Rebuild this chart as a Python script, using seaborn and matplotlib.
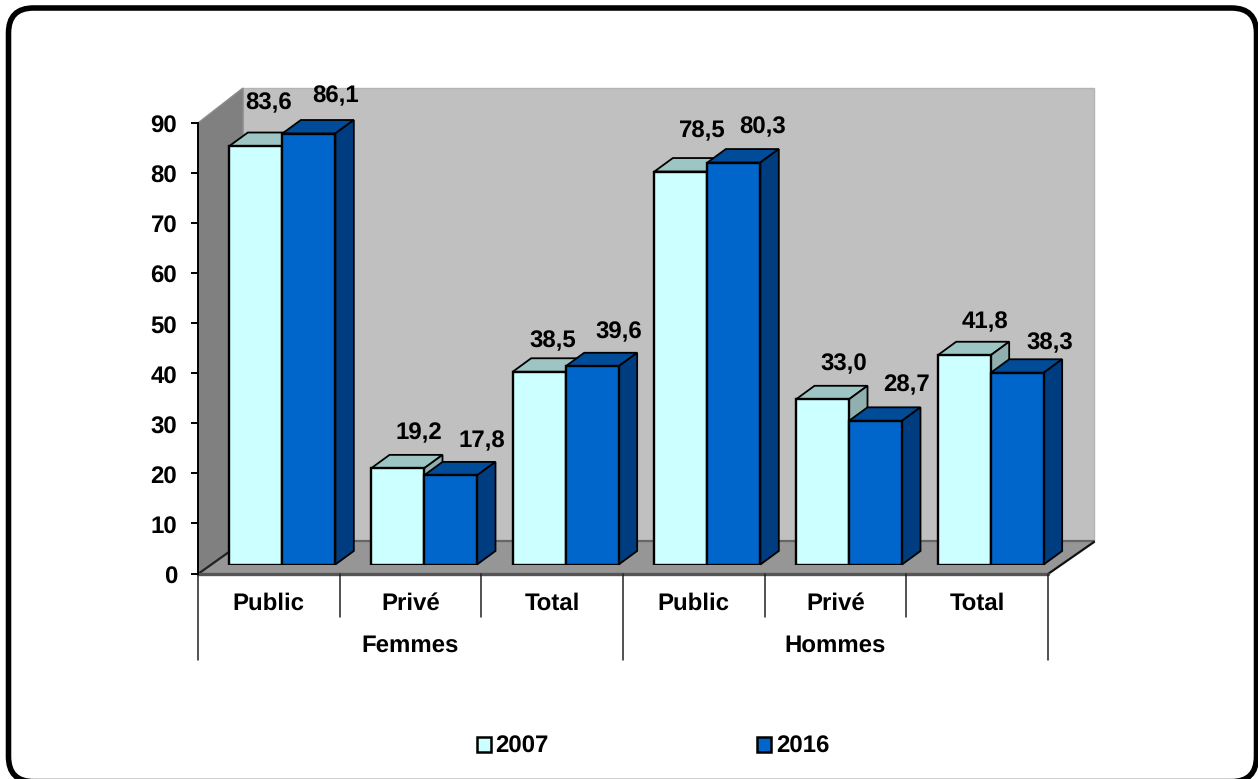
import matplotlib
matplotlib.use("Agg")
import matplotlib.pyplot as plt
from matplotlib.patches import Polygon, FancyBboxPatch, Patch
from matplotlib.transforms import ScaledTranslation
import pandas as pd
import seaborn as sns

groups = ["Femmes", "Hommes"]
sectors = ["Public", "Privé", "Total"]
years = ["2007", "2016"]
values_2007 = [83.6, 19.2, 38.5, 78.5, 33.0, 41.8]
values_2016 = [86.1, 17.8, 39.6, 80.3, 28.7, 38.3]
# Pixel nudges of the value labels from the top-centre of each front face
nudge_2007 = [(13, -43), (21, -35), (14, -31), (21, -40), (21, -35), (21, -33)]
nudge_2016 = [(27, -37), (31, -34), (27, -34), (29, -35), (31, -36), (33, -30)]

W, H = 1258, 779
FRONT = {"2007": "#CCFFFF", "2016": "#0066CC"}
TOP = {"2007": "#9CC5C3", "2016": "#004C99"}
SIDE = {"2007": "#8FB0AE", "2016": "#003D80"}
FS = 17

sns.set_theme(style="white")
plt.rcParams["font.family"] = ["Liberation Sans", "DejaVu Sans"]
plt.rcParams["font.weight"] = "bold"
plt.rcParams["text.hinting"] = "no_hinting"
plt.rcParams["text.hinting_factor"] = 1

fig = plt.figure(figsize=(W / 100, H / 100), dpi=100, facecolor="white")


def rect(left, top, right, bottom):
    return [left / W, 1 - bottom / H, (right - left) / W, (bottom - top) / H]


# Pixel-space layer: frame, walls and floor of the 3-D box
bg = fig.add_axes([0, 0, 1, 1], zorder=0)
bg.set_xlim(0, W)
bg.set_ylim(H, 0)
bg.axis("off")
bg.add_patch(FancyBboxPatch((8.5, 8), 1256.5 - 8.5, 781.6 - 8, boxstyle="round,pad=0,rounding_size=25",
                            fc="white", ec="black", lw=4, clip_on=True))
bg.add_patch(Polygon([(243, 88), (1094, 88), (1094, 542), (243, 542)], fc="#C0C0C0", ec="#B4B4B4", lw=1))
bg.add_patch(Polygon([(198, 123), (243, 88), (243, 542), (198, 574)], fc="#808080", ec="#8C8C8C", lw=1))
bg.add_patch(Polygon([(198, 574), (243, 542), (1094, 542), (1048, 574)], fc="#969696", ec="none"))
bg.plot([243, 1094], [541, 541], color="#666666", lw=1.6)
bg.plot([198, 243], [574, 542], color="#222222", lw=1.6)
bg.plot([1048, 1094], [574, 542], color="#111111", lw=1.6)
bg.plot([198, 1048], [574, 574], color="#555555", lw=2.4)

# Axis layer
ax = fig.add_axes(rect(198, 123, 1048, 573.5), zorder=1, facecolor="none")
ax.set_xlim(-0.5, 5.5)
ax.set_ylim(0, 90)
ax.set_yticks(range(0, 100, 10))
ax.tick_params(axis="y", length=5, width=1.4, color="black", pad=10, labelsize=FS, left=True)
ax.set_xticks(range(6), sectors * 2)
ax.tick_params(axis="x", length=0, pad=13.5, labelsize=FS)
for lab in ax.get_xticklabels() + ax.get_yticklabels():
    lab.set_fontweight("bold")
    lab.set_color("black")
for lab in ax.get_yticklabels():
    lab.set_transform(lab.get_transform() + ScaledTranslation(0, -1 / 72, fig.dpi_scale_trans))
for s in ["top", "right", "bottom"]:
    ax.spines[s].set_visible(False)
ax.spines["left"].set_color("black")
ax.spines["left"].set_linewidth(1.4)

trans = ax.get_xaxis_transform()
low, deep = -43 / 450, -86 / 450
for b in range(7):
    bottom = deep if b % 3 == 0 else low
    ax.plot([b - 0.5, b - 0.5], [0, bottom], transform=trans, color="#222222", lw=1.1, clip_on=False)
for i, g in enumerate(groups):
    ax.text(1 + 3 * i, -71.5 / 450, g, transform=trans, ha="center", va="center",
            fontsize=FS, fontweight="bold", color="black")

# Bars: same scales, shifted to their place in the depth of the box
df = pd.DataFrame({
    "pos": [f"{g}|{s}" for g in groups for s in sectors] * 2,
    "val": values_2007 + values_2016,
    "year": [years[0]] * 6 + [years[1]] * 6,
})
order = [f"{g}|{s}" for g in groups for s in sectors]
bax = fig.add_axes(rect(198 + 13.5, 123 - 9, 1048 + 13.5, 573.5 - 9), zorder=2, facecolor="none")
sns.barplot(data=df, x="pos", y="val", hue="year", order=order, hue_order=years, palette=FRONT,
            width=0.748, gap=0, dodge=True, edgecolor="black", linewidth=1.7, saturation=1,
            legend=False, ax=bax)
bax.set_xlim(-0.5, 5.5)
bax.set_ylim(0, 90)
bax.axis("off")

px_x = 6 / 850
px_y = 90 / 450
ddx, ddy = 18.5 * px_x, 13.5 * px_y
for k, (year, cont, nudges) in enumerate(zip(years, bax.containers, [nudge_2007, nudge_2016])):
    z_back, z_front = 3 + 2 * k, 4 + 2 * k
    for bar, (nx, ny) in zip(cont, nudges):
        x0, x1 = bar.get_x(), bar.get_x() + bar.get_width()
        h = bar.get_height()
        bar.set_zorder(z_front)
        bax.add_patch(Polygon([(x0, h), (x1, h), (x1 + ddx, h + ddy), (x0 + ddx, h + ddy)], fc=TOP[year],
                              ec="black", lw=1.3, clip_on=False, zorder=z_back))
        bax.add_patch(Polygon([(x1, 0), (x1 + ddx, ddy), (x1 + ddx, h + ddy), (x1, h)], fc=SIDE[year],
                              ec="black", lw=1.3, clip_on=False, zorder=z_back))
        bax.annotate(f"{h:.1f}".replace(".", ","), xy=((x0 + x1) / 2, h), xytext=(nx * 0.72, -ny * 0.72),
                     textcoords="offset points", ha="center", va="center", fontsize=FS,
                     fontweight="bold", color="black", zorder=20, annotation_clip=False)

handles = [Patch(fc=FRONT[y], ec="black", lw=1.8, label=y) for y in years]
fig.legend(handles=handles, loc="center", bbox_to_anchor=(653 / W, 1 - 747 / H), ncol=2, frameon=False,
           handlelength=0.59, handleheight=0.6, handletextpad=0.19, columnspacing=8.85,
           labelcolor="black", prop={"size": FS, "weight": "bold"})

fig.savefig("out.png", dpi=100)
